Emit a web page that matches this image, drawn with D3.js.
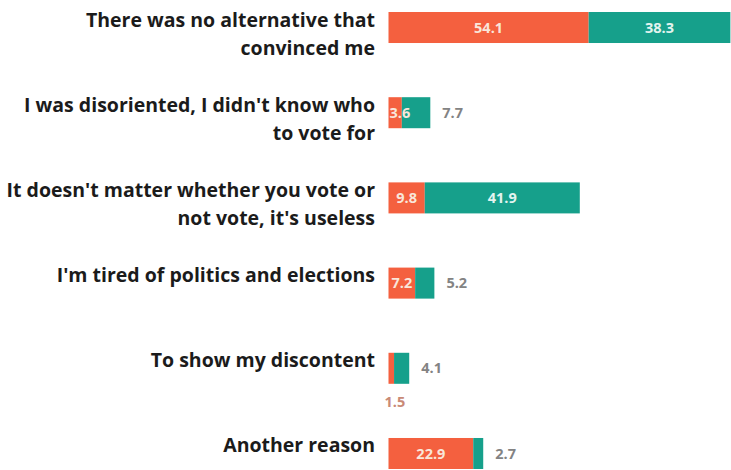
<!DOCTYPE html>
<html>
<head>
<meta charset="utf-8">
<script src="https://cdn.jsdelivr.net/npm/d3@7"></script>
<style>
  html, body { margin: 0; padding: 0; background: #ffffff; }
  svg { display: block; }
</style>
</head>
<body>
<svg id="chart" width="731" height="470"></svg>
<script>
// Reasons for not voting, stacked as two groups per answer
const categories = [
  "There was no alternative that\nconvinced me",
  "I was disoriented, I didn't know who\nto vote for",
  "It doesn't matter whether you vote or\nnot vote, it's useless",
  "I'm tired of politics and elections",
  "To show my discontent",
  "Another reason"
];
const seriesA = [54.1, 3.6, 9.8, 7.2, 1.5, 22.9];
const seriesB = [38.3, 7.7, 41.9, 5.2, 4.1, 2.7];

const colorA = "#f4603f";
const colorB = "#16a08b";

const svg = d3.select("#chart");

const y = d3.scaleBand()
  .domain(categories)
  .range([12, 469])
  .paddingInner(0.636)
  .paddingOuter(0);

const x = d3.scaleLinear()
  .domain([0, 100])
  .range([388.5, 758.5]);

const rows = categories.map((c, i) => ({ cat: c, a: seriesA[i], b: seriesB[i] }));

// Category labels, right aligned, wrapped over explicit lines
const labelX = 375;
const lab = svg.append("g").attr("class", "cat-labels");
rows.forEach(r => {
  const lines = r.cat.split("\n");
  const cy = y(r.cat) + y.bandwidth() / 2;
  const t = lab.append("text")
    .attr("x", labelX)
    .attr("y", cy - 1)
    .attr("text-anchor", "end")
    .attr("font-family", "'Open Sans', sans-serif")
    .attr("font-weight", 700)
    .attr("font-size", 19.5)
    .attr("fill", "#1b1b1b");
  lines.forEach((ln, k) => {
    t.append("tspan").attr("x", labelX).attr("dy", k === 0 ? 0 : 28).text(ln);
  });
});

// Stacked segments
const bars = svg.append("g").attr("class", "bars");
rows.forEach(r => {
  bars.append("rect")
    .attr("x", x(0)).attr("y", y(r.cat))
    .attr("width", x(r.a) - x(0)).attr("height", y.bandwidth())
    .attr("fill", colorA);
  bars.append("rect")
    .attr("x", x(r.a)).attr("y", y(r.cat))
    .attr("width", x(r.a + r.b) - x(r.a)).attr("height", y.bandwidth())
    .attr("fill", colorB);
});

// Value labels
const vals = svg.append("g").attr("class", "values")
  .attr("font-family", "'Open Sans', sans-serif")
  .attr("font-weight", 700)
  .attr("font-size", 14.5);
const fmt = d3.format(".1f");

rows.forEach(r => {
  const top = y(r.cat);
  const cy = top + y.bandwidth() / 2 + 5.2;
  const wA = x(r.a) - x(0);
  const wB = x(r.a + r.b) - x(r.a);

  // first segment label
  if (wA >= 8) {
    const t = vals.append("text")
      .attr("y", cy)
      .attr("text-anchor", "middle")
      .attr("fill", "#f9e6da")
      .text(fmt(r.a));
    const tw = t.node().getComputedTextLength();
    const cx = Math.max((x(0) + x(r.a)) / 2, x(0) + 1 + tw / 2);
    t.attr("x", cx);
  } else {
    vals.append("text")
      .attr("x", x(0) - 4)
      .attr("y", top + y.bandwidth() + 23)
      .attr("text-anchor", "start")
      .attr("fill", "#c98a76")
      .text(fmt(r.a));
  }

  // second segment label
  if (wB >= 30) {
    vals.append("text")
      .attr("x", (x(r.a) + x(r.a + r.b)) / 2)
      .attr("y", cy)
      .attr("text-anchor", "middle")
      .attr("fill", "#e3f4ef")
      .text(fmt(r.b));
  } else {
    vals.append("text")
      .attr("x", x(r.a + r.b) + 12)
      .attr("y", cy)
      .attr("text-anchor", "start")
      .attr("fill", "#838383")
      .text(fmt(r.b));
  }
});
</script>
</body>
</html>
